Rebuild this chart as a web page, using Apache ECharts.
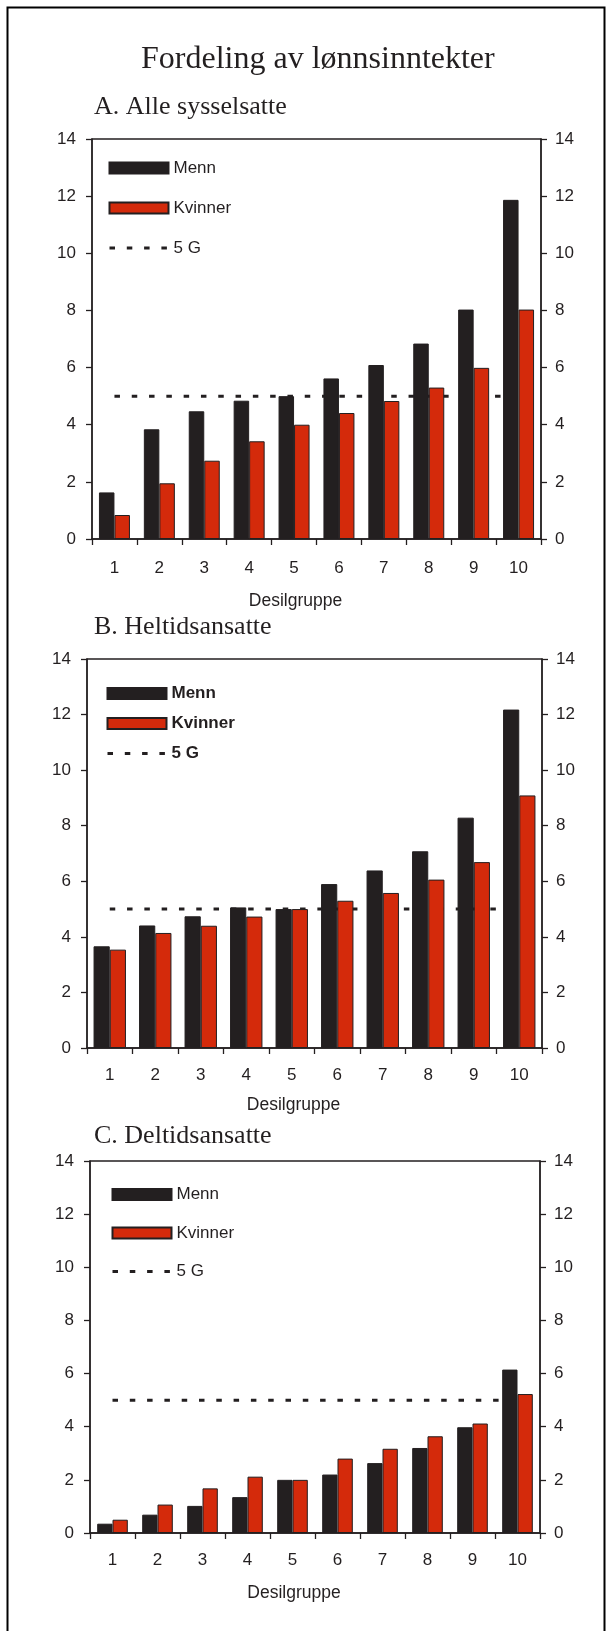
<!DOCTYPE html>
<html>
<head>
<meta charset="utf-8">
<title>Fordeling av lønnsinntekter</title>
<script src="https://cdn.jsdelivr.net/npm/echarts@6/dist/echarts.min.js"></script>
<style>
  html, body { margin: 0; padding: 0; background: #ffffff; }
  #chart { width: 614px; height: 1631px; }
</style>
</head>
<body>
<div id="chart"></div>
<script>
// Desilgrupper (x-axis categories)
const deciles = ['1', '2', '3', '4', '5', '6', '7', '8', '9', '10'];

// Y-axis scale (G units), shared by all three panels
const yMin = 0;
const yMax = 14;
const yStep = 2;

// A. Alle sysselsatte
const menA = [1.63, 3.84, 4.47, 4.84, 5.0, 5.62, 6.09, 6.84, 8.03, 11.87];
const kvinnerA = [0.84, 1.95, 2.74, 3.42, 4.0, 4.41, 4.83, 5.30, 5.99, 8.03];

// B. Heltidsansatte
const menB = [3.66, 4.41, 4.74, 5.06, 5.0, 5.90, 6.39, 7.08, 8.29, 12.18];
const kvinnerB = [3.54, 4.14, 4.40, 4.73, 5.0, 5.30, 5.58, 6.06, 6.69, 9.09];

// C. Deltidsansatte
const menC = [0.35, 0.69, 1.02, 1.35, 2.0, 2.20, 2.63, 3.20, 3.98, 6.15];
const kvinnerC = [0.50, 1.07, 1.68, 2.12, 2.0, 2.80, 3.17, 3.64, 4.12, 5.23];

// 5 G reference level
const fiveG = [5, 5, 5, 5, 5, 5, 5, 5, 5, 5];

const panelTitles = ['A. Alle sysselsatte', 'B. Heltidsansatte', 'C. Deltidsansatte'];
const seriesNames = ['Menn', 'Kvinner', '5 G'];
const axisTitle = 'Desilgruppe';

const INK = '#231f20';
const RED = '#d42a0b';
const SANS = '"Liberation Sans", Arial, sans-serif';
const SERIF = '"Liberation Serif", "Times New Roman", serif';
const FS = 17;

// Layout of the three panels
const panels = [
  { men: menA, kvinner: kvinnerA, grid: { left: 92, top: 139, width: 449, height: 400 },
    titleTop: 94, legendLeft: 108, legendTop: 159.5, legendGap: 23, bold: false, barWidth: 15.5,
    labelMargin: 21, nameGap: 53 },
  { men: menB, kvinner: kvinnerB, grid: { left: 87, top: 659, width: 455, height: 389 },
    titleTop: 614, legendLeft: 106, legendTop: 685, legendGap: 13, bold: true, barWidth: 16.2,
    labelMargin: 19, nameGap: 48 },
  { men: menC, kvinner: kvinnerC, grid: { left: 90, top: 1161, width: 450, height: 372 },
    titleTop: 1123, legendLeft: 111, legendTop: 1186, legendGap: 21.5, bold: false, barWidth: 15.3,
    labelMargin: 19, nameGap: 51 }
];

const grids = [], xAxes = [], yAxes = [], series = [], titles = [], legends = [];

panels.forEach((p, i) => {
  grids.push(Object.assign({
    show: true, borderColor: INK, borderWidth: 1.3, backgroundColor: 'transparent'
  }, p.grid));

  xAxes.push({
    type: 'category', gridIndex: i, data: deciles, boundaryGap: true,
    axisLine: { lineStyle: { color: INK, width: 1.5 } },
    axisTick: { show: true, inside: false, length: 6, lineStyle: { color: INK, width: 1.3 } },
    axisLabel: { color: INK, fontFamily: SANS, fontSize: FS, margin: p.labelMargin },
    name: axisTitle, nameLocation: 'middle', nameGap: p.nameGap,
    nameTextStyle: { color: INK, fontFamily: SANS, fontSize: 17.5, padding: [0, 42, 0, 0] },
    splitLine: { show: false }
  });

  const yCommon = {
    type: 'value', gridIndex: i, min: yMin, max: yMax, interval: yStep,
    axisLine: { show: true, lineStyle: { color: INK, width: 1.5 } },
    axisTick: { show: true, inside: false, length: 6, lineStyle: { color: INK, width: 1.3 } },
    splitLine: { show: false }
  };
  yAxes.push(Object.assign({}, yCommon, {
    position: 'left',
    axisLabel: { color: INK, fontFamily: SANS, fontSize: FS, margin: 16 }
  }));
  yAxes.push(Object.assign({}, yCommon, {
    position: 'right',
    axisLabel: { color: INK, fontFamily: SANS, fontSize: FS, margin: 14 }
  }));

  // 5 G level, drawn behind the bars
  series.push({
    name: seriesNames[2], type: 'line', xAxisIndex: i, yAxisIndex: 2 * i,
    data: fiveG, symbol: 'none', z: 1, silent: true,
    itemStyle: { color: INK },
    lineStyle: { color: INK, width: 3, type: [5.5, 11.8], cap: 'butt' }
  });
  series.push({
    name: seriesNames[0], type: 'bar', xAxisIndex: i, yAxisIndex: 2 * i,
    data: p.men, barWidth: p.barWidth, barGap: '0%', z: 3,
    itemStyle: { color: INK, borderColor: INK, borderWidth: 1 }
  });
  series.push({
    name: seriesNames[1], type: 'bar', xAxisIndex: i, yAxisIndex: 2 * i,
    data: p.kvinner, barWidth: p.barWidth, barGap: '0%', z: 3,
    itemStyle: { color: RED, borderColor: INK, borderWidth: 1 }
  });

  titles.push({
    text: panelTitles[i], left: 94, top: p.titleTop, padding: 0,
    textStyle: { fontFamily: SERIF, fontSize: 26, fontWeight: 'normal', color: INK }
  });

  legends.push({
    orient: 'vertical', left: p.legendLeft, top: p.legendTop, padding: 0,
    itemWidth: 59, itemHeight: 11, itemGap: p.legendGap, selectedMode: false,
    textStyle: { fontFamily: SANS, fontSize: FS, color: INK, lineHeight: 17,
                 fontWeight: p.bold ? 'bold' : 'normal', padding: [0, 0, 0, 0] },
    lineStyle: { width: 3, type: [5.5, 11.8] },
    data: [
      { name: seriesNames[0], icon: 'rect' },
      { name: seriesNames[1], icon: 'rect' },
      { name: seriesNames[2], itemStyle: { opacity: 0 } }
    ]
  });
});

// Main heading
titles.unshift({
  text: 'Fordeling av lønnsinntekter', left: 141, top: 44, padding: 0,
  textStyle: { fontFamily: SERIF, fontSize: 32, fontWeight: 'normal', color: INK }
});

const chart = echarts.init(document.getElementById('chart'), null, { renderer: 'canvas' });
chart.setOption({
  animation: false,
  backgroundColor: '#ffffff',
  title: titles,
  legend: legends,
  grid: grids,
  xAxis: xAxes,
  yAxis: yAxes,
  series: series,
  graphic: [{
    type: 'rect', silent: true, z: 100,
    shape: { x: 7.5, y: 7.5, width: 597, height: 1650 },
    style: { fill: 'none', stroke: '#000000', lineWidth: 2 }
  }]
});
</script>
</body>
</html>
